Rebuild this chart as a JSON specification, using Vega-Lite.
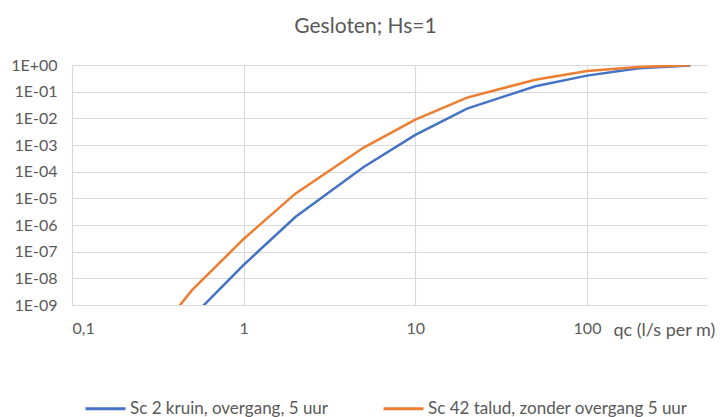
{
  "$schema": "https://vega.github.io/schema/vega-lite/v6.json",
  "autosize": {"type": "none"},
  "padding": {"left": 72, "top": 65, "right": 21, "bottom": 112},
  "width": 635,
  "height": 240,
  "background": "white",
  "title": {
    "text": "Gesloten; Hs=1",
    "font": "Lato",
    "fontSize": 21,
    "fontWeight": "normal",
    "color": "#595959",
    "anchor": "middle",
    "dx": -24,
    "offset": 20
  },
  "config": {
    "view": {"stroke": null},
    "font": "Lato"
  },
  "data": {
    "values": [
      {"serie": "Sc 2 kruin, overgang, 5 uur", "qc": 0.5, "p": 3.5e-10},
      {"serie": "Sc 2 kruin, overgang, 5 uur", "qc": 1, "p": 3.2e-8},
      {"serie": "Sc 2 kruin, overgang, 5 uur", "qc": 2, "p": 2e-6},
      {"serie": "Sc 2 kruin, overgang, 5 uur", "qc": 5, "p": 1.5e-4},
      {"serie": "Sc 2 kruin, overgang, 5 uur", "qc": 10, "p": 2.4e-3},
      {"serie": "Sc 2 kruin, overgang, 5 uur", "qc": 20, "p": 2.3e-2},
      {"serie": "Sc 2 kruin, overgang, 5 uur", "qc": 50, "p": 0.16},
      {"serie": "Sc 2 kruin, overgang, 5 uur", "qc": 100, "p": 0.4},
      {"serie": "Sc 2 kruin, overgang, 5 uur", "qc": 200, "p": 0.75},
      {"serie": "Sc 2 kruin, overgang, 5 uur", "qc": 400, "p": 0.95},
      {"serie": "Sc 42 talud, zonder overgang 5 uur", "qc": 0.4, "p": 6e-10},
      {"serie": "Sc 42 talud, zonder overgang 5 uur", "qc": 0.5, "p": 3.6e-9},
      {"serie": "Sc 42 talud, zonder overgang 5 uur", "qc": 1, "p": 3e-7},
      {"serie": "Sc 42 talud, zonder overgang 5 uur", "qc": 2, "p": 1.5e-5},
      {"serie": "Sc 42 talud, zonder overgang 5 uur", "qc": 5, "p": 8e-4},
      {"serie": "Sc 42 talud, zonder overgang 5 uur", "qc": 10, "p": 9e-3},
      {"serie": "Sc 42 talud, zonder overgang 5 uur", "qc": 20, "p": 6e-2},
      {"serie": "Sc 42 talud, zonder overgang 5 uur", "qc": 50, "p": 0.28},
      {"serie": "Sc 42 talud, zonder overgang 5 uur", "qc": 100, "p": 0.6},
      {"serie": "Sc 42 talud, zonder overgang 5 uur", "qc": 200, "p": 0.85},
      {"serie": "Sc 42 talud, zonder overgang 5 uur", "qc": 400, "p": 0.97}
    ]
  },
  "mark": {"type": "line", "clip": true, "strokeWidth": 2.5},
  "encoding": {
    "x": {
      "field": "qc",
      "type": "quantitative",
      "scale": {"type": "log", "domain": [0.1, 500], "nice": false},
      "axis": {
        "values": [0.1, 1, 10, 100],
        "labelExpr": "replace(format(datum.value, '~g'), '.', ',')",
        "title": "qc (l/s per m)",
        "titleFont": "Lato",
        "titleFontSize": 18,
        "titleFontWeight": "normal",
        "titleColor": "#595959",
        "titleAlign": "left",
        "titleBaseline": "middle",
        "titleAnchor": null,
        "titleX": 541,
        "titleY": 25,
        "labelFontSize": 16,
        "labelColor": "#595959",
        "labelPadding": 15,
        "tickSize": 0,
        "domain": false,
        "grid": true,
        "gridColor": "#d9d9d9",
        "gridWidth": 1.2
      }
    },
    "y": {
      "field": "p",
      "type": "quantitative",
      "scale": {"type": "log", "domain": [1e-9, 1], "nice": false},
      "axis": {
        "values": [1e-9, 1e-8, 1e-7, 1e-6, 1e-5, 1e-4, 1e-3, 1e-2, 1e-1, 1],
        "labelExpr": "'1E' + (round(log(datum.value)/LN10) < 0 ? '-' : '+') + (abs(round(log(datum.value)/LN10)) < 10 ? '0' : '') + abs(round(log(datum.value)/LN10))",
        "title": null,
        "labelFontSize": 16,
        "labelColor": "#595959",
        "labelPadding": 15,
        "tickSize": 0,
        "domain": false,
        "grid": true,
        "gridColor": "#d9d9d9",
        "gridWidth": 1.2
      }
    },
    "color": {
      "field": "serie",
      "type": "nominal",
      "scale": {
        "domain": ["Sc 2 kruin, overgang, 5 uur", "Sc 42 talud, zonder overgang 5 uur"],
        "range": ["#4472C4", "#ED7D31"]
      },
      "legend": {
        "orient": "none",
        "direction": "horizontal",
        "legendX": 12,
        "legendY": 322,
        "title": null,
        "symbolType": "stroke",
        "symbolSize": 1600,
        "symbolStrokeWidth": 3,
        "labelFontSize": 17,
        "labelLimit": 400,
        "labelColor": "#595959",
        "labelOffset": 3,
        "columnPadding": 48
      }
    }
  }
}
